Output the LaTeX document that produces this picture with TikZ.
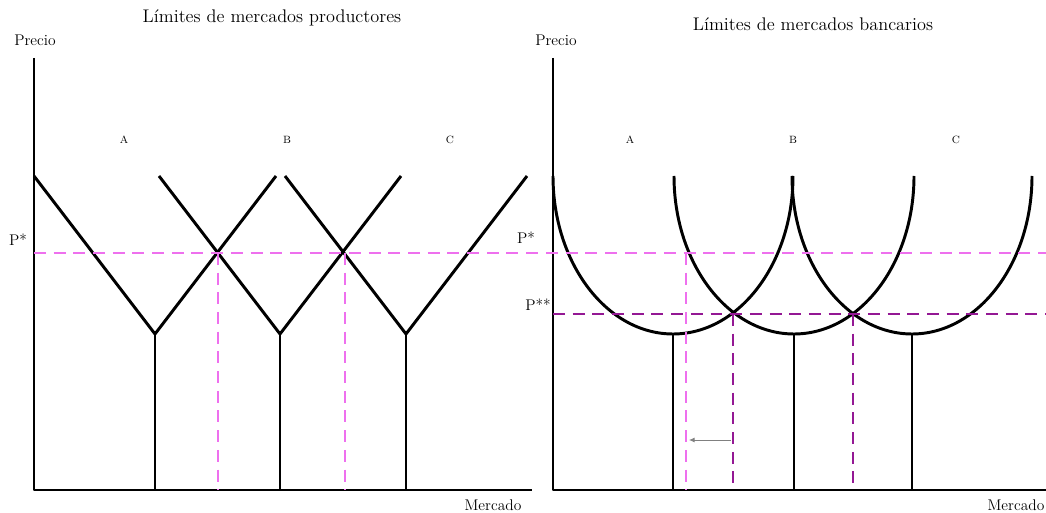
\documentclass[tikz,border=0pt]{standalone}
\usepackage{fontspec}
\usepackage{tikz}
\usetikzlibrary{arrows.meta}
\definecolor{rosa}{RGB}{238,112,238}
\definecolor{morado}{RGB}{148,24,148}

\begin{document}
\begin{tikzpicture}[x=0.025cm, y=0.025cm,
    curva/.style={line width=2.1pt, line join=round},
    pstar/.style={rosa, line width=2.1pt, dash pattern=on 8.5pt off 5.5pt},
    pdstar/.style={morado, line width=2.1pt, dash pattern=on 8.5pt off 5.5pt},
    titulo/.style={font=\fontsize{13}{15}\selectfont},
    rotulo/.style={font=\fontsize{11}{13}\selectfont},
    zona/.style={font=\fontsize{7.5}{9}\selectfont}]
    \useasboundingbox (0,0) rectangle (1046,513);

    % Titles and axis labels
    \node[titulo] (tituloProd) at (272,495) {Límites de mercados productores};
    \node[titulo] (tituloBanc) at (813,489) {Límites de mercados bancarios};
    \node[rotulo] (precioProd) at (35,473) {Precio};
    \node[rotulo] (precioBanc) at (556,473) {Precio};
    \node[rotulo] (mercadoProd) at (493,8) {Mercado};
    \node[rotulo] (mercadoBanc) at (1016,8) {Mercado};

    % Market names
    \foreach \x/\m in {124/A, 287/B, 450/C} \node[zona] (prod\m) at (\x,373) {\m};
    \foreach \x/\m in {630/A, 793/B, 956/C} \node[zona] (banc\m) at (\x,373) {\m};

    % Axes
    \draw[curva] (34,455) -- (34,23) -- (532,23);
    \draw[curva] (553,455) -- (553,23) -- (1046,23);

    % Producer markets
    \foreach \c in {155,280,406} {
        \draw[curva] (\c-121,337) -- (\c,179) -- (\c+121,337);
        \draw[curva] (\c,179) -- (\c,23);
    }

    % Bank markets
    \foreach \c in {673,794,912} {
        \draw[curva] (\c-120,337) arc[start angle=180, end angle=360, x radius=120, y radius=158];
        \draw[curva] (\c,179) -- (\c,23);
    }

    % Prices
    \draw[pstar] (34,260) -- (1046,260);
    \foreach \x in {218,345,686} \draw[pstar] (\x,260) -- (\x,23);
    \draw[pdstar] (553,199) -- (1046,199);
    \foreach \x in {733,853} \draw[pdstar] (\x,199) -- (\x,23);
    \node[rotulo] (pProd) at (18,273) {P*};
    \node[rotulo] (pBanc) at (526,275) {P*};
    \node[rotulo] (ppBanc) at (538,208) {P**};

    % Shift
    \draw[gray, line width=0.6pt, -{Latex[length=4pt,width=3.5pt]}] (731,73) -- (689,73);
\end{tikzpicture}
\end{document}
